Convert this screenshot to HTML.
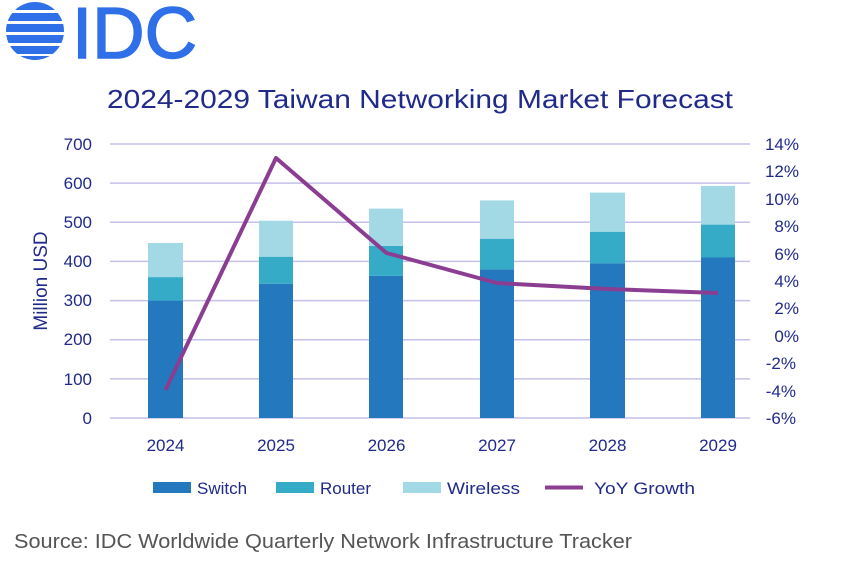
<!DOCTYPE html>
<html><head><style>body{margin:0;background:#fff}svg{display:block}</style></head><body>
<svg width="841" height="566" xmlns="http://www.w3.org/2000/svg" font-family="Liberation Sans, sans-serif">
<rect width="841" height="566" fill="#fff"/>
<defs><clipPath id="c"><circle cx="35" cy="31" r="29"/></clipPath></defs>
<g clip-path="url(#c)" fill="#2f6fe8">
<rect x="5" y="2" width="60" height="8"/><rect x="5" y="13" width="60" height="8"/><rect x="5" y="24" width="60" height="8"/><rect x="5" y="35" width="60" height="8"/><rect x="5" y="46" width="60" height="8"/><rect x="5" y="56" width="60" height="8"/>
</g>
<text x="72" y="58" font-size="72" fill="#2f6fe8" stroke="#2f6fe8" stroke-width="1.5" textLength="125" lengthAdjust="spacingAndGlyphs">IDC</text>
<text x="107" y="108" font-size="26" fill="#1f2a8a" textLength="626" lengthAdjust="spacingAndGlyphs">2024-2029 Taiwan Networking Market Forecast</text>
<g stroke="#c4c0e8" stroke-width="1.5">
<line x1="110" x2="750" y1="144" y2="144"/><line x1="110" x2="750" y1="183.1" y2="183.1"/><line x1="110" x2="750" y1="222.3" y2="222.3"/><line x1="110" x2="750" y1="261.4" y2="261.4"/><line x1="110" x2="750" y1="300.6" y2="300.6"/><line x1="110" x2="750" y1="339.7" y2="339.7"/><line x1="110" x2="750" y1="378.9" y2="378.9"/><line x1="110" x2="750" y1="418" y2="418"/>
</g>
<g font-size="17" fill="#1f2a8a" text-anchor="end">
<text x="92" y="150">700</text><text x="92" y="189">600</text><text x="92" y="228">500</text><text x="92" y="267">400</text><text x="92" y="306">300</text><text x="92" y="345">200</text><text x="92" y="385">100</text><text x="92" y="424">0</text>
</g>
<g font-size="17" fill="#1f2a8a" text-anchor="end">
<text x="799" y="150">14%</text><text x="799" y="177">12%</text><text x="799" y="205">10%</text><text x="799" y="232">8%</text><text x="799" y="260">6%</text><text x="799" y="287">4%</text><text x="799" y="314">2%</text><text x="799" y="342">0%</text><text x="796" y="369">-2%</text><text x="796" y="397">-4%</text><text x="796" y="424">-6%</text>
</g>
<text transform="translate(47,281) rotate(-90)" font-size="19" fill="#1f2a8a" text-anchor="middle">Million USD</text>
<g>
<rect x="148" y="300.6" width="35" height="117.4" fill="#2478be"/><rect x="148" y="277.1" width="35" height="23.5" fill="#35abc8"/><rect x="148" y="243" width="35" height="34.1" fill="#a3d9e5"/>
<rect x="259" y="283.7" width="34" height="134.3" fill="#2478be"/><rect x="259" y="256.7" width="34" height="27" fill="#35abc8"/><rect x="259" y="220.7" width="34" height="36" fill="#a3d9e5"/>
<rect x="369" y="275.9" width="34" height="142.1" fill="#2478be"/><rect x="369" y="245.8" width="34" height="30.1" fill="#35abc8"/><rect x="369" y="208.6" width="34" height="37.2" fill="#a3d9e5"/>
<rect x="480" y="269.3" width="34" height="148.7" fill="#2478be"/><rect x="480" y="238.7" width="34" height="30.6" fill="#35abc8"/><rect x="480" y="200.4" width="34" height="38.3" fill="#a3d9e5"/>
<rect x="590" y="263.4" width="35" height="154.6" fill="#2478be"/><rect x="590" y="231.7" width="35" height="31.7" fill="#35abc8"/><rect x="590" y="192.6" width="35" height="39.1" fill="#a3d9e5"/>
<rect x="701" y="257.5" width="34" height="160.5" fill="#2478be"/><rect x="701" y="224.6" width="34" height="32.9" fill="#35abc8"/><rect x="701" y="185.9" width="34" height="38.7" fill="#a3d9e5"/>
</g>
<polyline points="165.5,390 276,158 386.5,253 497,283 607.5,289 718,293" fill="none" stroke="#8b3d92" stroke-width="4" stroke-linejoin="round"/>
<g font-size="17" fill="#1f2a8a" text-anchor="middle">
<text x="165.5" y="451">2024</text><text x="276" y="451">2025</text><text x="386.5" y="451">2026</text><text x="497" y="451">2027</text><text x="607.5" y="451">2028</text><text x="718" y="451">2029</text>
</g>
<g font-size="17" fill="#1f2a8a">
<rect x="153" y="482" width="38" height="11" fill="#2478be"/><text x="197" y="494">Switch</text>
<rect x="276" y="482" width="38" height="11" fill="#35abc8"/><text x="320" y="494">Router</text>
<rect x="403" y="482" width="38" height="11" fill="#a3d9e5"/><text x="447" y="494" textLength="73" lengthAdjust="spacingAndGlyphs">Wireless</text>
<line x1="545" x2="583" y1="487.5" y2="487.5" stroke="#8b3d92" stroke-width="4"/><text x="594" y="494" textLength="101" lengthAdjust="spacingAndGlyphs">YoY Growth</text>
</g>
<text x="14" y="548" font-size="20" fill="#555" textLength="618" lengthAdjust="spacingAndGlyphs">Source: IDC Worldwide Quarterly Network Infrastructure Tracker</text>
</svg>
</body></html>
